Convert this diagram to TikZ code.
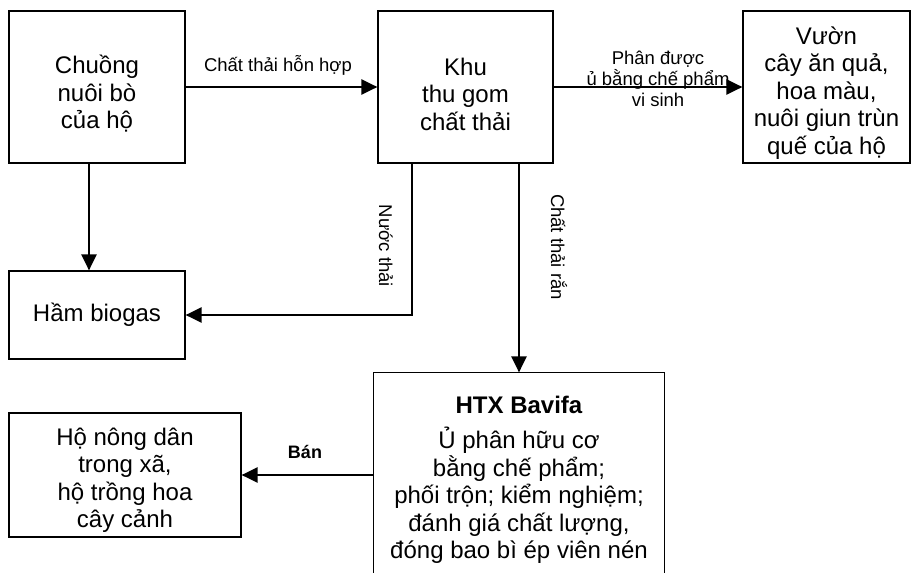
\documentclass[tikz,border=0pt]{standalone}
\usepackage{fontspec}
\setmainfont{Liberation Sans}
\usetikzlibrary{arrows.meta}
\begin{document}
\begin{tikzpicture}[x=1pt,y=-1pt,
  box/.style={draw, line width=1.2pt, fill=white, inner sep=0pt, align=center,
    font=\fontsize{24}{27.5}\selectfont},
  txt/.style={inner sep=0pt, align=center, font=\fontsize{24}{27.5}\selectfont},
  lbl/.style={inner sep=0pt, align=center, font=\fontsize{18.5}{21}\selectfont},
  arr/.style={line width=2.4pt, -{Triangle[length=16pt,width=15pt]}}]
\useasboundingbox (0,0) rectangle (911,573);
% boxes
\node[box, minimum width=176pt, minimum height=152pt,
  label={[txt, yshift=-7pt]center:{Chuồng\\nuôi bò\\của hộ}}] (A) at (97,87) {};
\node[box, minimum width=175pt, minimum height=152pt,
  label={[txt, yshift=-7pt]center:{Khu\\thu gom\\chất thải}}] (B) at (465.5,87) {};
\node[box, minimum width=167pt, minimum height=152pt,
  label={[txt, yshift=-6pt]center:{Vườn\\cây ăn quả,\\hoa màu,\\nuôi giun trùn\\quế của hộ}}] (C) at (826.5,87) {};
\node[box, minimum width=176pt, minimum height=88pt] (D) at (97,315) {Hầm biogas};
\node[box, minimum width=232pt, minimum height=124pt,
  label={[txt, yshift=-5pt]center:{Hộ nông dân\\trong xã,\\hộ trồng hoa\\cây cảnh}}] (E) at (125,475) {};
\node[box, draw=none, minimum width=290pt, minimum height=214pt] (H) at (519,480)
  {{\bfseries HTX Bavifa}\\[7.5pt]Ủ phân hữu cơ\\bằng chế phẩm;\\phối trộn; kiểm nghiệm;\\đánh giá chất lượng,\\đóng bao bì ép viên nén};
\coordinate (hb) at (0,573);
\draw[line width=1.2pt] (H.north west |- hb) -- (H.north west) -- (H.north east) -- (H.north east |- hb);
% connectors
\draw[arr] (A.east) -- (B.west);
\draw[arr] (B.east) -- (C.west);
\draw[arr] ([xshift=-8pt]A.south) -- ([xshift=-8pt]D.north);
\draw[arr] ([xshift=-53.5pt]B.south) |- (D.east);
\draw[arr] (H.north |- B.south) -- (H.north);
\draw[arr] (H.west |- E.east) -- (E.east);
% labels
\node[lbl] (l1) at (278,65) {Chất thải hỗn hợp};
\node[lbl] (l2) at (658,79) {Phân được\\ủ bằng chế phẩm\\vi sinh};
\node[lbl, rotate=-90] (l3) at (386,246) {Nước thải};
\node[lbl, rotate=-90] (l4) at (559,247) {Chất thải rắn};
\node[lbl, font=\fontsize{18}{21}\selectfont\bfseries] (l5) at (305,452) {Bán};
\end{tikzpicture}
\end{document}
